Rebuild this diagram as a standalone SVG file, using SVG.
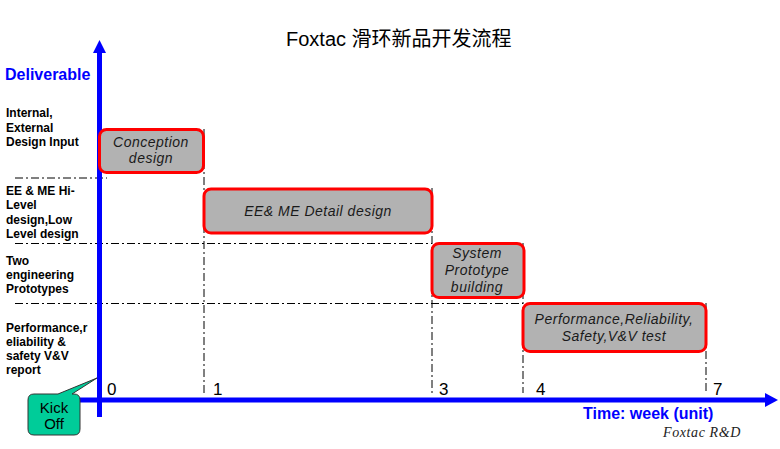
<svg xmlns="http://www.w3.org/2000/svg" width="780" height="449" viewBox="0 0 780 449">
<style>
.bg{fill:#ffffff}
.box{fill:#b2b2b2;stroke:#ff0000;stroke-width:3}
.bt{font-family:"Liberation Sans",Arial,sans-serif;font-style:italic;font-size:14px;letter-spacing:0.5px;fill:#1a1a1a;text-anchor:middle}
.lbl{font-family:"Liberation Sans",Arial,sans-serif;font-weight:bold;font-size:12px;fill:#000}
.axis{stroke:#0000ff;stroke-width:5;fill:none}
.head{fill:#0000ff}
.dd{stroke:#000;stroke-width:1;stroke-dasharray:8 3 2 3;fill:none}
.ax{font-family:"Liberation Sans",Arial,sans-serif;font-weight:bold;font-size:16px;fill:#0000ff}
.tick{font-family:"Liberation Sans",Arial,sans-serif;font-size:17px;fill:#000}
</style>
<rect class="bg" x="0" y="0" width="780" height="449"/>
<text x="286" y="46" font-family="'Liberation Sans','Noto Sans CJK SC',sans-serif" font-size="20" fill="#000">Foxtac 滑环新品开发流程</text>

<g id="connectors">
  <line class="dd" x1="15" y1="178" x2="107" y2="178"/>
  <line class="dd" x1="15" y1="243.5" x2="432" y2="243.5"/>
  <line class="dd" x1="15" y1="303.5" x2="523" y2="303.5"/>
  <line class="dd" x1="204" y1="129" x2="204" y2="393"/>
  <line class="dd" x1="432" y1="188" x2="432" y2="393"/>
  <line class="dd" x1="523" y1="243" x2="523" y2="393"/>
  <line class="dd" x1="706" y1="303" x2="706" y2="393"/>
  <line class="axis" x1="99.5" y1="50" x2="99.5" y2="417"/>
  <polygon class="head" points="99.5,40 93,53 106,53"/>
  <line class="axis" x1="78" y1="400" x2="767" y2="400"/>
  <polygon class="head" points="778,400 765,393 765,407"/>
</g>

<text class="ax" x="5" y="80">Deliverable</text>
<text class="ax" x="583" y="419">Time: week (unit)</text>
<text x="663" y="437" font-family="'Liberation Serif','Times New Roman',serif" font-style="italic" font-size="14" fill="#222" letter-spacing="0.6">Foxtac R&amp;D</text>

<g id="ticks">
  <text class="tick" x="107" y="395">0</text>
  <text class="tick" x="213" y="395">1</text>
  <text class="tick" x="439" y="395">3</text>
  <text class="tick" x="536" y="395">4</text>
  <text class="tick" x="713" y="395">7</text>
</g>

<g id="row-labels">
  <text class="lbl" x="6" y="117">Internal,</text>
  <text class="lbl" x="6" y="132">External</text>
  <text class="lbl" x="6" y="146">Design Input</text>
  <text class="lbl" x="6" y="195">EE &amp; ME Hi-</text>
  <text class="lbl" x="6" y="209">Level</text>
  <text class="lbl" x="6" y="224">design,Low</text>
  <text class="lbl" x="6" y="238">Level design</text>
  <text class="lbl" x="6" y="265">Two</text>
  <text class="lbl" x="6" y="279">engineering</text>
  <text class="lbl" x="6" y="293">Prototypes</text>
  <text class="lbl" x="6" y="332">Performance,r</text>
  <text class="lbl" x="6" y="346">eliability &amp;</text>
  <text class="lbl" x="6" y="360">safety V&amp;V</text>
  <text class="lbl" x="6" y="374">report</text>
</g>

<g id="conception">
  <rect class="box" x="99.5" y="129.5" width="104" height="43" rx="7"/>
  <text class="bt" x="151" y="147">Conception</text>
  <text class="bt" x="151" y="163">design</text>
</g>
<g id="detail-design">
  <rect class="box" x="204" y="189" width="228" height="44" rx="7"/>
  <text class="bt" x="318" y="216">EE&amp; ME Detail design</text>
</g>
<g id="prototype">
  <rect class="box" x="432" y="243.5" width="92" height="54" rx="7"/>
  <text class="bt" x="477" y="258">System</text>
  <text class="bt" x="477" y="275">Prototype</text>
  <text class="bt" x="477" y="292">building</text>
</g>
<g id="test">
  <rect class="box" x="523" y="303.5" width="183" height="48" rx="7"/>
  <text class="bt" x="614" y="324">Performance,Reliability,</text>
  <text class="bt" x="614" y="341">Safety,V&amp;V test</text>
</g>
<g id="kickoff">
  <path d="M34,394 H58 L97,378 L72,394 H74 Q80,394 80,400 V429 Q80,435 74,435 H34 Q28,435 28,429 V400 Q28,394 34,394 Z" fill="#00cc99" stroke="#333" stroke-width="1"/>
  <text x="54" y="413" font-family="'Liberation Sans',Arial,sans-serif" font-size="15" fill="#000" text-anchor="middle">Kick</text>
  <text x="54" y="429" font-family="'Liberation Sans',Arial,sans-serif" font-size="15" fill="#000" text-anchor="middle">Off</text>
</g>
</svg>
